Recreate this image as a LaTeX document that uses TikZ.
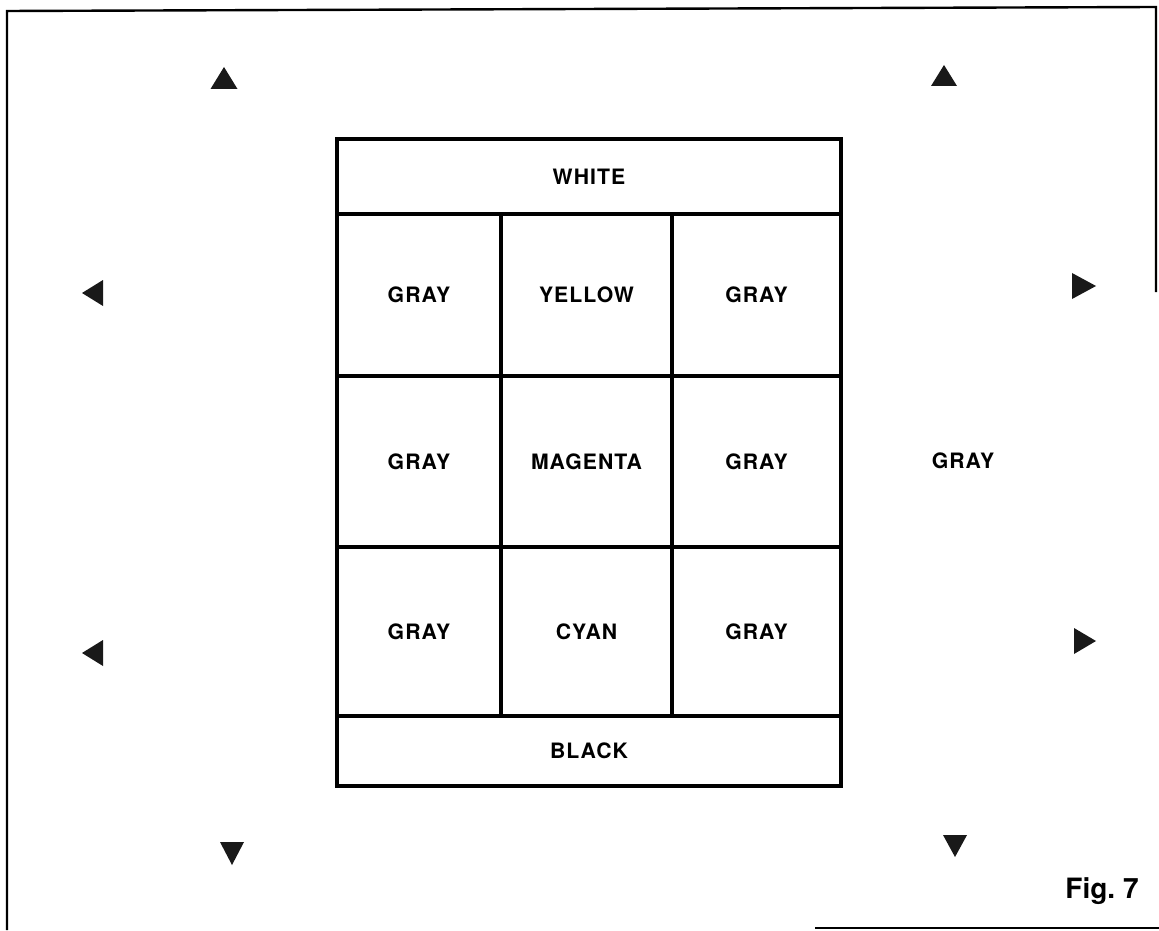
\documentclass[tikz,border=0pt]{standalone}
\usepackage{fontspec}
\setmainfont{TeX Gyre Heros}
\newfontfamily\lab[LetterSpace=5]{TeX Gyre Heros}
\begin{document}
\begin{tikzpicture}[x=0.5pt,y=-0.5pt,
  cell/.style={draw=black,line width=2pt,rectangle,inner sep=0pt,font=\lab\bfseries\fontsize{10.6}{12}\selectfont},
  lbl/.style={inner sep=0pt,font=\lab\bfseries\fontsize{10.6}{12}\selectfont},
  outerline/.style={draw=black,line width=1.2pt},
  regmark/.style={fill=black!90}]
\useasboundingbox (0,0) rectangle (1159,930);
% outer frame as printed
\draw[outerline] (7,930) -- (7,11) -- (1156,7) -- (1156,292);
\draw[outerline] (815,928) -- (1159,928);
% chart cells
\node[cell,minimum width=252pt,minimum height=37.5pt] (white) at (589,176.5) {WHITE};
\node[cell,minimum width=82pt,minimum height=81pt] (g11) at (419,295) {GRAY};
\node[cell,minimum width=85.5pt,minimum height=81pt] (yel) at (586.5,295) {YELLOW};
\node[cell,minimum width=84.5pt,minimum height=81pt] (g13) at (756.5,295) {GRAY};
\node[cell,minimum width=82pt,minimum height=85.5pt] (g21) at (419,461.5) {GRAY};
\node[cell,minimum width=85.5pt,minimum height=85.5pt] (mag) at (586.5,461.5) {MAGENTA};
\node[cell,minimum width=84.5pt,minimum height=85.5pt] (g23) at (756.5,461.5) {GRAY};
\node[cell,minimum width=82pt,minimum height=84.5pt] (g31) at (419,631.5) {GRAY};
\node[cell,minimum width=85.5pt,minimum height=84.5pt] (cyan) at (586.5,631.5) {CYAN};
\node[cell,minimum width=84.5pt,minimum height=84.5pt] (g33) at (756.5,631.5) {GRAY};
\node[cell,minimum width=252pt,minimum height=35pt] (black) at (589,751) {BLACK};
% surround label
\node[lbl] (gout) at (963,461) {GRAY};
% registration marks
\fill[regmark] (224,67) -- (237.5,89) -- (210.5,89) -- cycle;
\fill[regmark] (944,65) -- (957,86) -- (931,86) -- cycle;
\fill[regmark] (82,293) -- (103,280) -- (103,306) -- cycle;
\fill[regmark] (82,653) -- (103,640) -- (103,666) -- cycle;
\fill[regmark] (1096,286) -- (1072,273) -- (1072,299) -- cycle;
\fill[regmark] (1096,641) -- (1074,628) -- (1074,654) -- cycle;
\fill[regmark] (232,865) -- (220,842) -- (244,842) -- cycle;
\fill[regmark] (955,857) -- (943,835) -- (967,835) -- cycle;
% figure caption
\node[inner sep=0pt,anchor=base,font=\bfseries\fontsize{14}{16}\selectfont] (fig) at (1102,898) {Fig.~7};
\end{tikzpicture}
\end{document}
